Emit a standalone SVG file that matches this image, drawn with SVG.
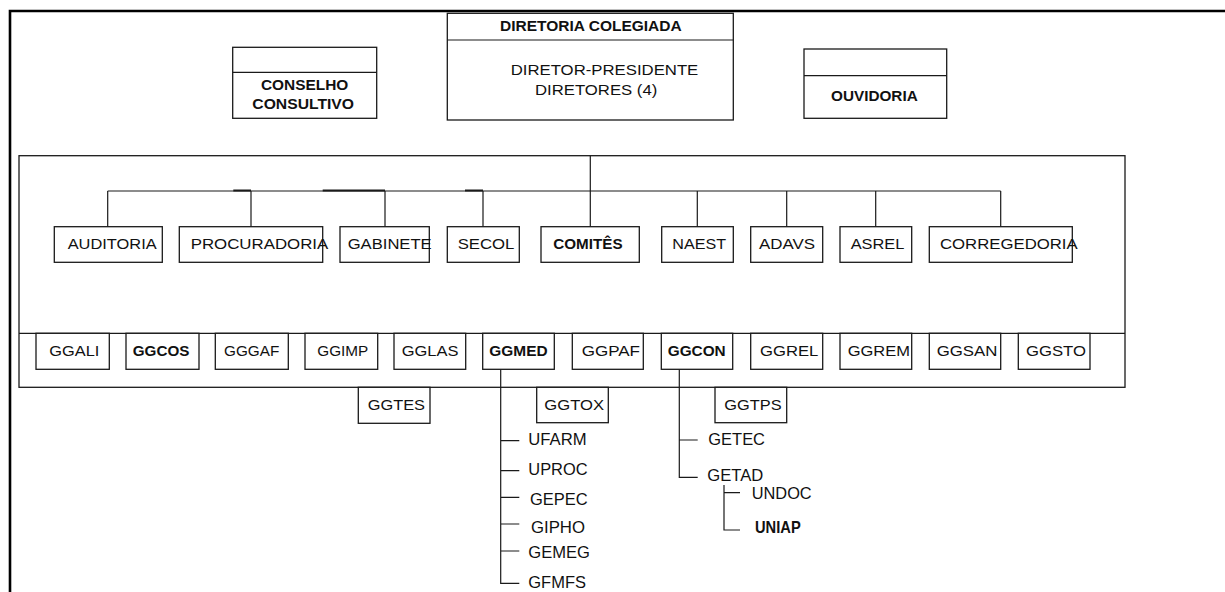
<svg xmlns="http://www.w3.org/2000/svg" width="1225" height="592" viewBox="0 0 1225 592">
  <style>
    .bx { fill: #fff; stroke: #1a1a1a; stroke-width: 1.3; }
    .ln { fill: none; stroke: #1a1a1a; stroke-width: 1.2; }
    .lnb { fill: none; stroke: #1a1a1a; stroke-width: 2; }
    .fr { fill: none; stroke: #000; stroke-width: 2.6; }
    text { font-family: "Liberation Sans", Arial, sans-serif; font-size: 15.5px; fill: #111; }
    .b { font-weight: bold; }
    .sm { font-size: 16.5px; }
    .hd { font-size: 15px; }
  </style>

  <!-- page frame (top and left edges) -->
  <path class="fr" d="M10,592 V11 H1225"/>

  <!-- board of directors -->
  <g id="diretoria">
    <rect class="bx" x="447.3" y="13.3" width="286" height="106.7"/>
    <line class="ln" x1="447.3" y1="40" x2="733.3" y2="40"/>
    <text class="b hd" x="500" y="30.7" textLength="181.7" lengthAdjust="spacingAndGlyphs">DIRETORIA COLEGIADA</text>
    <text x="510.7" y="75.3" textLength="187.6" lengthAdjust="spacingAndGlyphs">DIRETOR-PRESIDENTE</text>
    <text x="535" y="94.7" textLength="122.3" lengthAdjust="spacingAndGlyphs">DIRETORES (4)</text>
  </g>

  <g id="conselho">
    <rect class="bx" x="232.7" y="47.3" width="144" height="71"/>
    <line class="ln" x1="232.7" y1="72.3" x2="376.7" y2="72.3"/>
    <text class="b" x="261" y="90" textLength="87.3" lengthAdjust="spacingAndGlyphs">CONSELHO</text>
    <text class="b" x="252.3" y="109" textLength="101.7" lengthAdjust="spacingAndGlyphs">CONSULTIVO</text>
  </g>

  <g id="ouvidoria">
    <rect class="bx" x="804" y="49" width="142.7" height="69.3"/>
    <line class="ln" x1="804" y1="75.7" x2="946.7" y2="75.7"/>
    <text class="b" x="831" y="101" textLength="86.7" lengthAdjust="spacingAndGlyphs">OUVIDORIA</text>
  </g>

  <!-- structure frame with the general managements strip -->
  <g id="estrutura">
    <rect class="bx" x="19" y="155.7" width="1106" height="231.6" style="fill:none"/>
    <line class="ln" x1="19" y1="333.3" x2="1125" y2="333.3"/>
  </g>

  <!-- connectors -->
  <g id="connectors">
    <line class="ln" x1="590.3" y1="155.7" x2="590.3" y2="226.7"/>
    <line class="ln" x1="107.7" y1="191" x2="1000.7" y2="191"/>
    <line class="lnb" x1="233.3" y1="190.5" x2="251" y2="190.5"/>
    <line class="lnb" x1="322.7" y1="190.5" x2="385" y2="190.5"/>
    <line class="lnb" x1="465" y1="190.5" x2="483" y2="190.5"/>
    <path class="ln" d="M107.7,191 V226.7 M251,191 V226.7 M385,191 V226.7 M483,191 V226.7 M697.3,191 V226.7 M786.7,191 V226.7 M875.7,191 V226.7 M1000.7,191 V226.7"/>

    <!-- GGMED units -->
    <path class="ln" d="M500.7,369.3 V583.3 H519.3 M500.7,440.7 H519.3 M500.7,470.7 H519.3 M500.7,497.3 H519.3 M500.7,524 H519.3 M500.7,551 H519.3"/>
    <!-- GGCON units -->
    <path class="ln" d="M679.3,369.3 V477.3 H697.7 M679.3,440 H697.7"/>
    <path class="ln" d="M724,485 V530 H740 M724,492.7 H740"/>
  </g>

  <!-- advisory units -->
  <g id="auditoria"><rect class="bx" x="54.3" y="226.7" width="108" height="35.6"/><text x="67.7" y="249" textLength="89" lengthAdjust="spacingAndGlyphs">AUDITORIA</text></g>
  <g id="procuradoria"><rect class="bx" x="179.3" y="226.7" width="143.4" height="35.6"/><text x="190.7" y="249" textLength="137.6" lengthAdjust="spacingAndGlyphs">PROCURADORIA</text></g>
  <g id="gabinete"><rect class="bx" x="340" y="226.7" width="89.3" height="35.6"/><text x="347.7" y="249" textLength="84" lengthAdjust="spacingAndGlyphs">GABINETE</text></g>
  <g id="secol"><rect class="bx" x="447.3" y="226.7" width="72" height="35.6"/><text x="457.7" y="249" textLength="56.7" lengthAdjust="spacingAndGlyphs">SECOL</text></g>
  <g id="comites"><rect class="bx" x="541" y="226.7" width="98.3" height="35.6"/><text class="b" x="553.3" y="249" textLength="69.3" lengthAdjust="spacingAndGlyphs">COMITÊS</text></g>
  <g id="naest"><rect class="bx" x="661.7" y="226.7" width="71.6" height="35.6"/><text x="672.3" y="249" textLength="53.7" lengthAdjust="spacingAndGlyphs">NAEST</text></g>
  <g id="adavs"><rect class="bx" x="750.7" y="226.7" width="72" height="35.6"/><text x="759" y="249" textLength="56" lengthAdjust="spacingAndGlyphs">ADAVS</text></g>
  <g id="asrel"><rect class="bx" x="840" y="226.7" width="71.7" height="35.6"/><text x="850.7" y="249" textLength="53.7" lengthAdjust="spacingAndGlyphs">ASREL</text></g>
  <g id="corregedoria"><rect class="bx" x="929.3" y="226.7" width="143" height="35.6"/><text x="940" y="249" textLength="137.7" lengthAdjust="spacingAndGlyphs">CORREGEDORIA</text></g>

  <!-- general managements -->
  <g id="ggali"><rect class="bx" x="36" y="333.3" width="73.3" height="36"/><text x="49.3" y="355.7" textLength="50" lengthAdjust="spacingAndGlyphs">GGALI</text></g>
  <g id="ggcos"><rect class="bx" x="126" y="333.3" width="73" height="36"/><text class="b" x="132.7" y="355.7" textLength="56.7" lengthAdjust="spacingAndGlyphs">GGCOS</text></g>
  <g id="gggaf"><rect class="bx" x="215.3" y="333.3" width="73" height="36"/><text x="224" y="355.7" textLength="55.3" lengthAdjust="spacingAndGlyphs">GGGAF</text></g>
  <g id="ggimp"><rect class="bx" x="305" y="333.3" width="72.7" height="36"/><text x="317.3" y="355.7" textLength="51" lengthAdjust="spacingAndGlyphs">GGIMP</text></g>
  <g id="gglas"><rect class="bx" x="394" y="333.3" width="71.7" height="36"/><text x="401.7" y="355.7" textLength="56.7" lengthAdjust="spacingAndGlyphs">GGLAS</text></g>
  <g id="ggmed"><rect class="bx" x="482.7" y="333.3" width="71.6" height="36"/><text class="b" x="489.3" y="355.7" textLength="58.3" lengthAdjust="spacingAndGlyphs">GGMED</text></g>
  <g id="ggpaf"><rect class="bx" x="572.3" y="333.3" width="71" height="36"/><text x="581.7" y="355.7" textLength="58.3" lengthAdjust="spacingAndGlyphs">GGPAF</text></g>
  <g id="ggcon"><rect class="bx" x="661.3" y="333.3" width="71.4" height="36"/><text class="b" x="667.7" y="355.7" textLength="58" lengthAdjust="spacingAndGlyphs">GGCON</text></g>
  <g id="ggrel"><rect class="bx" x="750.7" y="333.3" width="72" height="36"/><text x="760" y="355.7" textLength="58.3" lengthAdjust="spacingAndGlyphs">GGREL</text></g>
  <g id="ggrem"><rect class="bx" x="840" y="333.3" width="71.7" height="36"/><text x="847.7" y="355.7" textLength="62.3" lengthAdjust="spacingAndGlyphs">GGREM</text></g>
  <g id="ggsan"><rect class="bx" x="929.3" y="333.3" width="71.4" height="36"/><text x="936.7" y="355.7" textLength="60.7" lengthAdjust="spacingAndGlyphs">GGSAN</text></g>
  <g id="ggsto"><rect class="bx" x="1018.3" y="333.3" width="71.7" height="36"/><text x="1026" y="355.7" textLength="60" lengthAdjust="spacingAndGlyphs">GGSTO</text></g>

  <g id="ggtes"><rect class="bx" x="358.3" y="387.3" width="71.7" height="36"/><text x="367.7" y="410" textLength="57.3" lengthAdjust="spacingAndGlyphs">GGTES</text></g>
  <g id="ggtox"><rect class="bx" x="536.7" y="387.3" width="71.6" height="35.4"/><text x="544.3" y="410" textLength="59.7" lengthAdjust="spacingAndGlyphs">GGTOX</text></g>
  <g id="ggtps"><rect class="bx" x="715" y="387.3" width="71.7" height="35.4"/><text x="724.3" y="410" textLength="57.3" lengthAdjust="spacingAndGlyphs">GGTPS</text></g>

  <!-- units under GGMED -->
  <g id="ufarm"><text class="sm" x="528.3" y="445" textLength="58.3" lengthAdjust="spacingAndGlyphs">UFARM</text></g>
  <g id="uproc"><text class="sm" x="528.3" y="475" textLength="59.3" lengthAdjust="spacingAndGlyphs">UPROC</text></g>
  <g id="gepec"><text class="sm" x="530" y="505" textLength="57.7" lengthAdjust="spacingAndGlyphs">GEPEC</text></g>
  <g id="gipho"><text class="sm" x="531" y="533.3" textLength="54" lengthAdjust="spacingAndGlyphs">GIPHO</text></g>
  <g id="gemeg"><text class="sm" x="528.3" y="557.7" textLength="61.7" lengthAdjust="spacingAndGlyphs">GEMEG</text></g>
  <g id="gfmfs"><text class="sm" x="528.3" y="587.7" textLength="57.7" lengthAdjust="spacingAndGlyphs">GFMFS</text></g>

  <!-- units under GGCON -->
  <g id="getec"><text class="sm" x="708.3" y="445" textLength="56.7" lengthAdjust="spacingAndGlyphs">GETEC</text></g>
  <g id="getad"><text class="sm" x="707.3" y="481" textLength="56" lengthAdjust="spacingAndGlyphs">GETAD</text></g>
  <g id="undoc"><text class="sm" x="751.7" y="499" textLength="60" lengthAdjust="spacingAndGlyphs">UNDOC</text></g>
  <g id="uniap"><text class="sm b" x="755" y="533.3" textLength="45.7" lengthAdjust="spacingAndGlyphs">UNIAP</text></g>
</svg>
